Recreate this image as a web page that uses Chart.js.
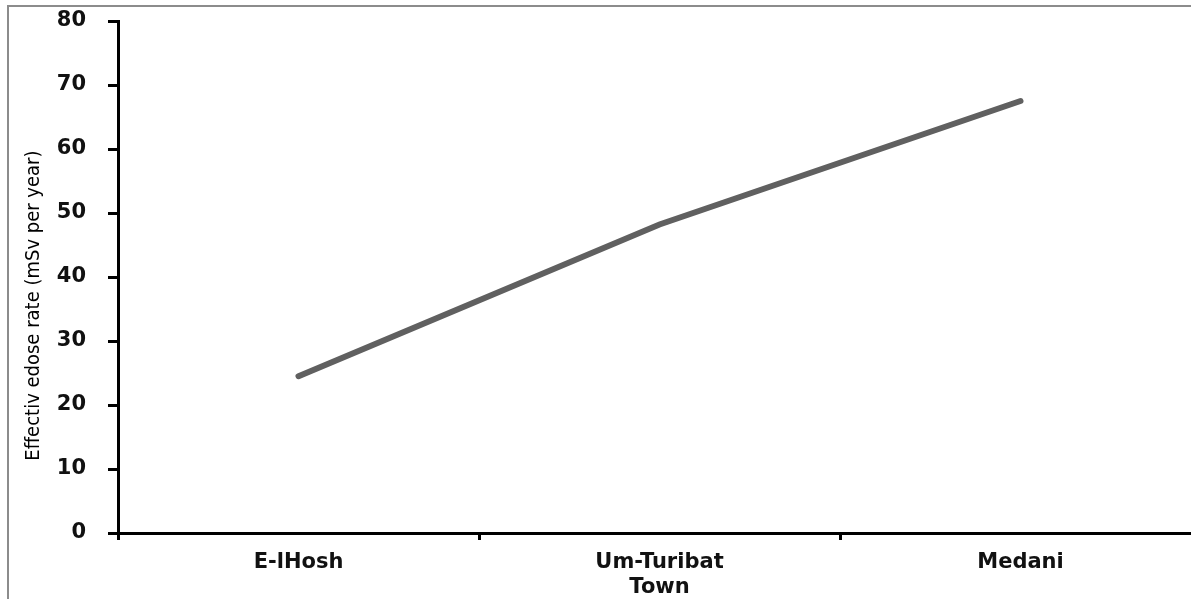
<!DOCTYPE html>
<html>
<head>
<meta charset="utf-8">
<script src="https://cdn.jsdelivr.net/npm/chart.js@4/dist/chart.umd.min.js"></script>
<style>
    html, body { margin: 0; padding: 0; background: #fff; overflow: hidden; }
    #wrap { position: relative; width: 1215px; height: 610px; }
    #frame {
        position: absolute; left: 7px; top: 5px; width: 1300px; height: 700px;
        border-left: 2px solid #8c8c8c; border-top: 2px solid #8c8c8c;
    }
</style>
</head>
<body>
<div id="wrap">
    <canvas id="doseChart" width="1215" height="610"></canvas>
    <div id="frame"></div>
</div>
<script>
// chart values
const towns = ["E-lHosh", ["Um-Turibat", "Town"], "Medani"];
const doseRate = [24.5, 48.2, 67.5];
const yTicks = [0, 10, 20, 30, 40, 50, 60, 70, 80];

const ctx = document.getElementById("doseChart").getContext("2d");

new Chart(ctx, {
    type: "line",
    data: {
        labels: towns,
        datasets: [{
            label: "Effective dose rate",
            data: doseRate,
            borderColor: "#606060",
            borderWidth: 6,
            borderCapStyle: "round",
            pointRadius: 0,
            tension: 0,
            fill: false
        }]
    },
    options: {
        responsive: false,
        animation: false,
        layout: { padding: { top: 21, right: 14, left: 0, bottom: 0 } },
        plugins: {
            legend: { display: false },
            tooltip: { enabled: false }
        },
        scales: {
            x: {
                offset: true,
                grid: {
                    offset: true,
                    drawOnChartArea: false,
                    drawTicks: true,
                    tickLength: 7,
                    tickWidth: 3,
                    tickColor: "#000"
                },
                border: { color: "#000", width: 3 },
                ticks: {
                    color: "#111",
                    padding: 10,
                    maxRotation: 0,
                    font: { family: "DejaVu Sans", size: 21, weight: "bold", lineHeight: 1.2 }
                },
                afterFit(scale) { scale.height = 77; }
            },
            y: {
                min: 0,
                max: 80,
                afterBuildTicks(scale) { scale.ticks = yTicks.map(v => ({ value: v })); },
                grid: {
                    drawOnChartArea: false,
                    drawTicks: true,
                    tickLength: 10,
                    tickWidth: 3,
                    tickColor: "#000"
                },
                border: { color: "#000", width: 3 },
                ticks: {
                    color: "#111",
                    padding: 22,
                    font: { family: "DejaVu Sans", size: 21, weight: "bold" }
                },
                title: {
                    display: true,
                    text: "Effectiv edose rate (mSv per year)" + " ".repeat(10),
                    color: "#000",
                    padding: { top: 22, bottom: 0 },
                    font: { family: "'Liberation Sans Narrow', 'DejaVu Sans Condensed', 'Arial Narrow', 'Roboto Condensed', sans-serif", size: 20 }
                },
                afterFit(scale) {
                    scale.width = 118;
                    scale.paddingTop = 0;
                    scale.paddingBottom = 0;
                }
            }
        }
    }
});
</script>
</body>
</html>
